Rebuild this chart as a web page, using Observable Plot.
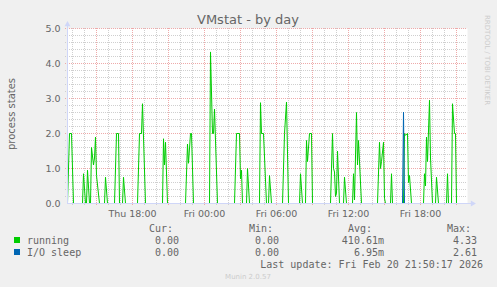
<!DOCTYPE html>
<html>
<head>
<meta charset="utf-8">
<script src="https://cdn.jsdelivr.net/npm/d3@7"></script>
<script src="https://cdn.jsdelivr.net/npm/@observablehq/plot@0.6"></script>
<style>
  html, body { margin: 0; padding: 0; background: #f0f0f0; }
  #chart svg { display: block; }
</style>
</head>
<body>
<div id="chart"></div>
<script>
// ---- data ----
const title = "VMstat - by day";
const yLabel = "process states";

const runningTimes = [
  "2026-02-19T12:35","2026-02-19T12:45","2026-02-19T12:55","2026-02-19T13:05",
  "2026-02-19T13:50","2026-02-19T13:55","2026-02-19T14:05","2026-02-19T14:10","2026-02-19T14:15","2026-02-19T14:25",
  "2026-02-19T14:30","2026-02-19T14:35","2026-02-19T14:45","2026-02-19T14:50","2026-02-19T14:55","2026-02-19T15:00","2026-02-19T15:15",
  "2026-02-19T15:40","2026-02-19T15:45","2026-02-19T15:55",
  "2026-02-19T16:30","2026-02-19T16:40","2026-02-19T16:50","2026-02-19T16:55",
  "2026-02-19T17:10","2026-02-19T17:15","2026-02-19T17:25",
  "2026-02-19T18:25","2026-02-19T18:35","2026-02-19T18:45","2026-02-19T18:50","2026-02-19T19:05",
  "2026-02-19T20:30","2026-02-19T20:35","2026-02-19T20:40","2026-02-19T20:45","2026-02-19T20:55",
  "2026-02-19T22:25","2026-02-19T22:35","2026-02-19T22:40","2026-02-19T22:50","2026-02-19T22:55","2026-02-19T23:05",
  "2026-02-20T00:25","2026-02-20T00:30","2026-02-20T00:40","2026-02-20T00:45","2026-02-20T00:50","2026-02-20T01:05",
  "2026-02-20T02:30","2026-02-20T02:40","2026-02-20T02:55","2026-02-20T03:00","2026-02-20T03:05","2026-02-20T03:10",
  "2026-02-20T03:30","2026-02-20T03:35","2026-02-20T03:45",
  "2026-02-20T04:35","2026-02-20T04:40","2026-02-20T04:45","2026-02-20T04:55","2026-02-20T05:10",
  "2026-02-20T05:20","2026-02-20T05:25","2026-02-20T05:35",
  "2026-02-20T06:30","2026-02-20T06:40","2026-02-20T06:50","2026-02-20T07:00",
  "2026-02-20T07:55","2026-02-20T08:00","2026-02-20T08:10",
  "2026-02-20T08:25","2026-02-20T08:30","2026-02-20T08:35","2026-02-20T08:45","2026-02-20T08:55","2026-02-20T09:00",
  "2026-02-20T10:30","2026-02-20T10:40","2026-02-20T10:45","2026-02-20T10:50","2026-02-20T10:55","2026-02-20T11:00","2026-02-20T11:05","2026-02-20T11:15",
  "2026-02-20T11:35","2026-02-20T11:40","2026-02-20T11:50",
  "2026-02-20T12:20","2026-02-20T12:25","2026-02-20T12:30","2026-02-20T12:40","2026-02-20T12:45","2026-02-20T12:50","2026-02-20T13:05",
  "2026-02-20T14:25","2026-02-20T14:35","2026-02-20T14:40","2026-02-20T14:45","2026-02-20T14:55","2026-02-20T15:00","2026-02-20T15:05",
  "2026-02-20T15:30","2026-02-20T15:35","2026-02-20T15:40",
  "2026-02-20T16:35","2026-02-20T16:40","2026-02-20T16:45","2026-02-20T16:55","2026-02-20T17:00","2026-02-20T17:05","2026-02-20T17:15",
  "2026-02-20T18:15","2026-02-20T18:20","2026-02-20T18:25","2026-02-20T18:30","2026-02-20T18:35","2026-02-20T18:45","2026-02-20T18:50","2026-02-20T19:00",
  "2026-02-20T19:15","2026-02-20T19:20","2026-02-20T19:30",
  "2026-02-20T20:10","2026-02-20T20:15","2026-02-20T20:20",
  "2026-02-20T20:35","2026-02-20T20:40","2026-02-20T20:50","2026-02-20T20:55","2026-02-20T21:00",
  "2026-02-20T21:55"
];
const runningValues = [
  0, 2.0, 2.0, 0,
  0, 0.85, 0, 0, 0.95, 0,
  0, 1.6, 1.1, 1.3, 1.9, 0.8, 0,
  0, 0.75, 0,
  0, 2.0, 2.0, 0,
  0, 0.75, 0,
  0, 2.0, 2.0, 2.85, 0,
  0, 1.85, 1.1, 1.75, 0,
  0, 1.7, 1.15, 2.0, 2.0, 0,
  0, 4.33, 2.0, 2.0, 2.7, 0,
  0, 2.0, 2.0, 0.7, 0.95, 0,
  0, 1.0, 0,
  0, 2.88, 2.0, 2.0, 0,
  0, 0.8, 0,
  0, 2.0, 2.9, 0,
  0, 0.85, 0,
  0, 1.8, 1.2, 2.0, 2.0, 0,
  0, 2.0, 1.0, 0.9, 0.2, 0.3, 1.5, 0,
  0, 0.75, 0,
  0, 0.85, 0.1, 2.6, 1.1, 1.8, 0,
  0, 1.75, 1.0, 1.2, 1.75, 0.15, 0,
  0, 0.85, 0,
  0, 2.0, 1.95, 2.0, 0.6, 0.8, 0,
  0, 0.85, 0.5, 1.9, 1.2, 2.95, 1.3, 0,
  0, 0.75, 0,
  0, 0.85, 0,
  0, 2.85, 2.0, 2.0, 0,
  0
];
const ioTimes = ["2026-02-19T12:35","2026-02-20T16:30","2026-02-20T16:35","2026-02-20T16:40","2026-02-20T21:55"];
const ioValues = [0, 0, 2.61, 0, 0];

const domainStart = "2026-02-19T12:35";
const domainEnd = "2026-02-20T21:55";

const yTicks = [0, 1, 2, 3, 4, 5];
const yTickLabels = ["0.0", "1.0", "2.0", "3.0", "4.0", "5.0"];
const xTickTimes = ["2026-02-19T18:00","2026-02-20T00:00","2026-02-20T06:00","2026-02-20T12:00","2026-02-20T18:00"];
const xTickLabels = ["Thu 18:00","Fri 00:00","Fri 06:00","Fri 12:00","Fri 18:00"];

const legendNames = ["running", "I/O sleep"];
const legendColors = ["#00cc00", "#0066b3"];
const legendCur = ["0.00", "0.00"];
const legendMin = ["0.00", "0.00"];
const legendAvg = ["410.61m", "6.95m"];
const legendMax = ["4.33", "2.61"];
const legendHeaders = ["Cur:", "Min:", "Avg:", "Max:"];
const lastUpdate = "Last update: Fri Feb 20 21:50:17 2026";
const versionText = "Munin 2.0.57";
const watermark = "RRDTOOL / TOBI OETIKER";

// ---- build ----
const toDate = s => new Date(s + ":00Z");
const running = runningTimes.map((t, i) => ({t: toDate(t), v: runningValues[i]}));
const io = ioTimes.map((t, i) => ({t: toDate(t), v: ioValues[i]}));
const x0 = toDate(domainStart), x1 = toDate(domainEnd);

const hours = d3.utcHour.range(x0, x1);
const majorHours = hours.filter(d => d.getUTCHours() % 3 === 0);
const minorHours = hours.filter(d => d.getUTCHours() % 3 !== 0);
const yMinor = d3.range(1, 25).map(i => i / 5).filter(v => Math.abs(v - Math.round(v)) > 1e-9);
const yMajor = yTicks.filter(v => v > 0);

const minorColor = "#cfcfcf";
const majorColor = "#eeaaaa";
const axisColor = "#cfd6f8";
const fontColor = "#666666";
const tickFont = "DejaVu Sans, sans-serif";

const chart = Plot.plot({
  width: 497,
  height: 287,
  marginLeft: 67,
  marginRight: 30,
  marginTop: 28,
  marginBottom: 84,
  x: {type: "utc", domain: [x0, x1], axis: null},
  y: {domain: [0, 5], axis: null},
  style: {background: "#f0f0f0", fontFamily: tickFont, overflow: "visible"},
  marks: [
    Plot.frame({fill: "#ffffff", stroke: null}),
    Plot.ruleY(yMinor, {stroke: minorColor, strokeDasharray: "1,1", insetLeft: -2}),
    Plot.ruleX(minorHours, {stroke: minorColor, strokeDasharray: "1,1", insetBottom: -2}),
    Plot.ruleY(yMajor, {stroke: majorColor, strokeDasharray: "1,1", insetLeft: -2}),
    Plot.ruleX(majorHours, {stroke: majorColor, strokeDasharray: "1,1", insetBottom: -3}),
    Plot.line(running, {x: "t", y: "v", stroke: legendColors[0], strokeWidth: 1}),
    Plot.line(io, {x: "t", y: "v", stroke: legendColors[1], strokeWidth: 1}),
    Plot.ruleY([0], {stroke: axisColor, insetRight: -4}),
    Plot.ruleX([x0], {stroke: axisColor, insetTop: -3}),
    Plot.dot([x1], {x: d => d, y: () => 0, dx: 5, symbol: "triangle", rotate: 90, r: 2.2, fill: axisColor, stroke: null}),
    Plot.dot([x0], {x: d => d, y: () => 5, dy: -4, symbol: "triangle", r: 2.2, fill: axisColor, stroke: null}),
    Plot.text(yTicks, {x: () => x0, y: d => d, text: (d, i) => yTickLabels[i], dx: -7, textAnchor: "end", fill: fontColor, fontSize: 9.5}),
    Plot.text(xTickTimes, {x: d => toDate(d), y: () => 0, text: (d, i) => xTickLabels[i], dy: 10, fill: fontColor, fontSize: 9.5})
  ]
});

document.getElementById("chart").appendChild(chart);

// ---- titles and legend as SVG text ----
const svg = d3.select(chart);
svg.append("text").attr("x", 248).attr("y", 23.5).attr("text-anchor", "middle")
  .attr("font-family", tickFont).attr("font-size", 13).attr("fill", fontColor).text(title);
svg.append("text").attr("transform", "translate(15,114) rotate(-90)").attr("text-anchor", "middle")
  .attr("font-family", tickFont).attr("font-size", 10).attr("fill", fontColor).text(yLabel);
svg.append("text").attr("transform", "translate(485,15) rotate(90)").attr("text-anchor", "start")
  .attr("font-family", tickFont).attr("font-size", 7).attr("fill", "#cccccc").text(watermark);

const mono = "DejaVu Sans Mono, monospace";
const legend = svg.append("g").attr("font-family", mono).attr("font-size", 10)
  .attr("fill", fontColor).attr("text-anchor", "start");
const headerX = [149, 249, 348, 447];
legendHeaders.forEach((t, i) => legend.append("text").attr("x", headerX[i]).attr("y", 231.5).attr("text-anchor", "start").text(t));
legendNames.forEach((name, i) => {
  const yy = 243.5 + i * 12;
  legend.append("rect").attr("x", 14).attr("y", yy - 6.5).attr("width", 6).attr("height", 6).attr("fill", legendColors[i]);
  legend.append("text").attr("x", 27).attr("y", yy).attr("text-anchor", "start").text(name);
  legend.append("text").attr("x", 179).attr("y", yy).attr("text-anchor", "end").text(legendCur[i]);
  legend.append("text").attr("x", 279).attr("y", yy).attr("text-anchor", "end").text(legendMin[i]);
  legend.append("text").attr("x", 384).attr("y", yy).attr("text-anchor", "end").text(legendAvg[i]);
  legend.append("text").attr("x", 477).attr("y", yy).attr("text-anchor", "end").text(legendMax[i]);
});
legend.append("text").attr("x", 483).attr("y", 267.5).attr("text-anchor", "end").text(lastUpdate);
svg.append("text").attr("x", 248).attr("y", 279).attr("text-anchor", "middle")
  .attr("font-family", tickFont).attr("font-size", 7).attr("fill", "#cccccc").text(versionText);
</script>
</body>
</html>
